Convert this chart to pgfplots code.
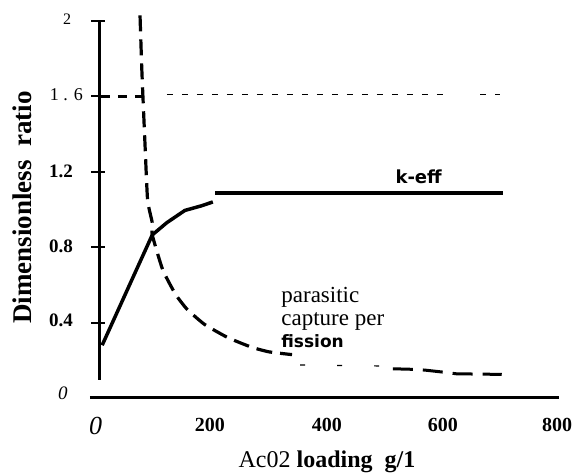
\documentclass[border=0pt]{standalone}
\usepackage{fontspec}
\setmainfont{Liberation Serif}
\newfontfamily\dvs{DejaVu Sans}
\usepackage{pgfplots}
\pgfplotsset{compat=1.18}
\begin{document}
\begin{tikzpicture}
\begin{axis}[hide axis, x=0.29125pt, y=94.25pt, xmin=-150, xmax=850, ymin=-0.4, ymax=2.05,
  clip=false, enlargelimits=false]
\coordinate (O) at (axis cs:0,0);
% axis lines
\draw[line width=1.5pt] (-7,0) -- (798,0);
\draw[line width=1.5pt] (8.6,2) -- (8.6,0.095);
\draw[line width=1pt] (-5,2) -- (19,2);
\draw[line width=1pt] (-5,1.6) -- (19,1.6);
\draw[line width=1pt] (-5,1.2) -- (19,1.2);
\draw[line width=1pt] (-5,0.8) -- (19,0.8);
\draw[line width=1pt] (-5,0.4) -- (19,0.4);
% tick labels
\node[anchor=base east, font=\fontsize{8}{10}\selectfont] at (-27,1.98) {2};
\node[anchor=base east, font=\fontsize{9}{11}\selectfont] at (-7,1.58) {1 . 6};
\node[anchor=base east, font=\fontsize{9.5}{12}\selectfont\bfseries] at (-24,1.17) {1.2};
\node[anchor=base east, font=\fontsize{9.5}{12}\selectfont\bfseries] at (-24,0.77) {0.8};
\node[anchor=base east, font=\fontsize{9.5}{12}\selectfont\bfseries] at (-24,0.377) {0.4};
\node[anchor=base east, font=\fontsize{9.5}{12}\selectfont\itshape] at (-33,-0.01) {0};
\node[anchor=base, font=\fontsize{13}{15}\selectfont\itshape] at (3,-0.196) {0};
\node[anchor=base, font=\fontsize{10}{12}\selectfont\bfseries] at (199,-0.18) {200};
\node[anchor=base, font=\fontsize{10}{12}\selectfont\bfseries] at (400,-0.18) {400};
\node[anchor=base, font=\fontsize{10}{12}\selectfont\bfseries] at (599,-0.18) {600};
\node[anchor=base, font=\fontsize{10}{12}\selectfont\bfseries] at (795,-0.18) {800};
% titles
\node[anchor=base, font=\fontsize{12}{14}\selectfont] at (400,-0.37) {Ac02 \textbf{loading\ \ g/1}};
\node[rotate=90, font=\fontsize{13.5}{16}\selectfont\bfseries] at (-124,1.01) {Dimensionless\enspace ratio};
% annotations
\node[anchor=base west, inner sep=0pt, font=\dvs\fontsize{9}{11}\selectfont\bfseries] at (517,1.14) {k-eff};
\node[anchor=base west, inner sep=0pt, font=\fontsize{11.5}{12}\selectfont] at (321,0.504) {parasitic};
\node[anchor=base west, inner sep=0pt, font=\fontsize{11.5}{12}\selectfont] at (321,0.387) {capture per};
\node[anchor=base west, inner sep=0pt, font=\dvs\fontsize{8.5}{10}\selectfont\bfseries] at (321,0.27) {fission};
% k-eff
\addplot[black, line width=1.75pt, line join=round] coordinates {
(14,0.28) (100,0.865) (125,0.93) (156,0.995) (185,1.02) (204,1.04)};
\addplot[black, line width=1.75pt] coordinates {(208,1.087) (702,1.087)};
% 1.6 reference lines
\addplot[black, line width=1.4pt, dash pattern=on 4.5pt off 4pt] coordinates {(12,1.6) (84,1.6)};
\addplot[black, line width=0.6pt, dash pattern=on 3pt off 4.5pt] coordinates {(125,1.61) (611,1.61)};
\addplot[black, line width=0.6pt, dash pattern=on 3pt off 4.5pt] coordinates {(663,1.61) (697,1.61)};
% parasitic capture per fission
\addplot[black, line width=1.6pt, dash pattern=on 8pt off 4pt, smooth, tension=0.3] coordinates {
(79,2.03) (82,1.75) (84,1.6) (87.5,1.35) (92,1.05) (100,0.93) (100,0.865)
(118,0.68) (140,0.55) (160,0.47) (190,0.39) (230,0.32) (270,0.27) (300,0.245) (340,0.23)};
\addplot[black, line width=0.6pt, dash pattern=on 2.5pt off 16pt] coordinates {(354,0.175) (491,0.17)};
\addplot[black, line width=1.5pt, dash pattern=on 10pt off 5pt] coordinates {
(513,0.155) (548,0.152) (568,0.148) (606,0.135) (623,0.128) (658,0.127) (700,0.125)};
\end{axis}
\pgfresetboundingbox
\path[use as bounding box] ([shift={(-47pt,-39pt)}]O) rectangle ([shift={(240pt,199pt)}]O);
\end{tikzpicture}
\end{document}
